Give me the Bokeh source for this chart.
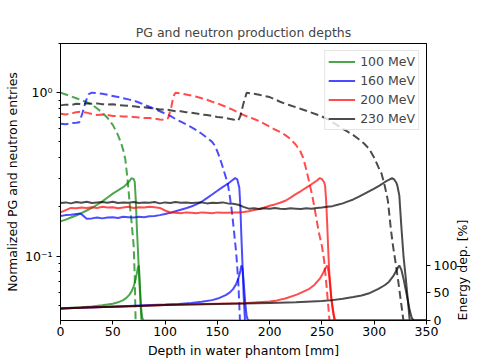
import numpy as np
from bokeh.plotting import figure
from bokeh.models import (Range1d, LinearAxis, FixedTicker, CustomJSTickFormatter,
                          Legend, LegendItem, LinearScale)
from bokeh.embed import file_html
from bokeh.resources import INLINE

FONT = "DejaVu Sans"

labels = ["100 MeV", "160 MeV", "200 MeV", "230 MeV"]
colors = ["green", "blue", "red", "black"]

# ---- PG (solid) ----
g_pg_x = [0, 5, 10, 15, 20, 25, 30, 35, 40, 45, 50, 55, 60, 63, 66, 68, 70, 71, 72, 73, 74, 75, 76, 77, 78]
g_pg_y = [0.163, 0.167, 0.172, 0.177, 0.183, 0.190, 0.197, 0.206, 0.216, 0.228, 0.241, 0.252, 0.264, 0.274,
          0.288, 0.300, 0.296, 0.284, 0.22, 0.15, 0.11, 0.08, 0.06, 0.045, 0.035]

b_pg_x = [0, 5, 10, 15, 19, 22,
          25, 30, 35, 40, 45, 50, 55, 60, 65, 70,
          75, 80, 85, 90, 95, 100, 105, 110, 115, 120,
          125, 130, 135, 140, 145, 150, 155, 160,
          164, 167, 169, 171, 172, 173, 174, 175, 176, 177]
b_pg_y = [0.176, 0.178, 0.179, 0.181, 0.182, 0.176,
          0.169, 0.170, 0.172, 0.170, 0.172, 0.173, 0.171, 0.174, 0.173, 0.172,
          0.174, 0.173, 0.175, 0.176, 0.178, 0.181, 0.184, 0.188, 0.192, 0.196,
          0.201, 0.207, 0.215, 0.226, 0.238, 0.251, 0.264, 0.277,
          0.290, 0.300, 0.295, 0.262, 0.20, 0.13, 0.09, 0.06, 0.045, 0.035]

r_pg_x = [0, 5, 10, 15, 20, 25, 30, 35, 40, 45,
          50, 55, 60, 65, 70, 75, 80, 85, 90, 95,
          100, 105, 110, 115, 120, 125, 130, 135, 140, 145,
          150, 155, 160, 165, 170, 175, 180, 185, 190, 195,
          200, 205, 210, 215, 220, 225, 230, 235, 240, 245,
          248, 250, 252, 253, 254, 255, 256, 257, 259, 261, 263]
r_pg_y = [0.185, 0.191, 0.197, 0.196, 0.198, 0.197, 0.199, 0.197, 0.200, 0.198,
          0.199, 0.196, 0.198, 0.200, 0.197, 0.199, 0.198, 0.200, 0.199, 0.197,
          0.190, 0.185, 0.184, 0.183, 0.185, 0.184, 0.183, 0.185, 0.184, 0.183,
          0.185, 0.184, 0.184, 0.185, 0.185, 0.186, 0.188, 0.191, 0.194, 0.198,
          0.203, 0.207, 0.212, 0.218, 0.228, 0.239, 0.250, 0.262, 0.275, 0.289,
          0.300, 0.296, 0.284, 0.27, 0.22, 0.16, 0.11, 0.08, 0.055, 0.045, 0.035]

k_pg_x = [0, 5, 10, 15, 20, 25, 30, 35, 40, 45,
          50, 55, 60, 65, 70, 75, 80, 85, 90, 95,
          100, 105, 110, 115, 120, 125, 130, 135, 140, 145,
          150, 155, 160, 165, 170, 175, 180, 185, 190, 195,
          200, 205, 210, 215, 220, 225, 230, 235, 240, 245,
          250, 255, 260, 265, 270, 275, 280, 285, 290, 295,
          300, 305, 310,
          314, 317, 319, 321, 322, 324, 326, 328, 330, 332, 334, 335]
k_pg_y = [0.211, 0.213, 0.210, 0.214, 0.212, 0.215, 0.211, 0.213, 0.214, 0.212,
          0.215, 0.211, 0.213, 0.212, 0.214, 0.211, 0.213, 0.212, 0.214, 0.210,
          0.213, 0.211, 0.214, 0.212, 0.213, 0.211, 0.212, 0.213, 0.210, 0.212,
          0.211, 0.213, 0.210, 0.209, 0.206, 0.200, 0.195, 0.196, 0.194, 0.196,
          0.195, 0.197, 0.195, 0.194, 0.196, 0.195, 0.194, 0.196, 0.195, 0.197,
          0.198, 0.200, 0.202, 0.206, 0.210, 0.216, 0.222, 0.230, 0.239, 0.249,
          0.259, 0.270, 0.283,
          0.293, 0.300, 0.295, 0.282, 0.272, 0.235, 0.15, 0.10, 0.075, 0.055, 0.04, 0.035]

# ---- neutrons (dashed) ----
g_n_x = [0, 5, 10, 15, 20, 25, 30, 35, 40, 45, 50, 55, 58, 60, 62, 64, 66, 68, 70, 71, 72]
g_n_y = [1.0, 0.975, 0.95, 0.925, 0.90, 0.875, 0.845, 0.80, 0.755, 0.70, 0.635, 0.55, 0.49, 0.445,
         0.39, 0.30, 0.215, 0.16, 0.115, 0.075, 0.035]

b_n_x = [0, 5, 10, 15, 18, 21, 24, 27,
         30, 35, 40, 45, 50, 55, 60, 65, 70, 75,
         80, 85, 90, 95, 100, 105, 110, 115, 120, 125,
         130, 135, 140, 145,
         148, 151, 154, 157, 160, 162, 164, 166, 168, 170, 171, 172]
b_n_y = [0.646, 0.640, 0.650, 0.655, 0.660, 0.75, 0.88, 0.98,
         1.0, 0.995, 0.985, 0.97, 0.955, 0.94, 0.925, 0.91, 0.895, 0.87,
         0.845, 0.82, 0.795, 0.77, 0.745, 0.72, 0.69, 0.665, 0.64, 0.615,
         0.59, 0.56, 0.53, 0.50,
         0.47, 0.42, 0.37, 0.32, 0.277, 0.23, 0.185, 0.14, 0.105, 0.07, 0.05, 0.035]

r_n_x = [0, 5, 10, 15, 20, 25, 30, 35, 40, 45, 50, 55, 60, 65, 70, 75, 80, 85, 90, 95, 100,
         103, 106, 108, 110,
         115, 120, 125, 130, 135, 140, 145, 150, 155, 160, 165, 170, 175, 180, 185, 190, 195,
         200, 205, 210, 215, 220, 225,
         229, 232, 235, 238, 241, 244, 247, 250, 252, 254, 256, 258]
r_n_y = [0.743, 0.735, 0.745, 0.760, 0.765, 0.755, 0.740, 0.730, 0.735, 0.730, 0.720, 0.720, 0.715,
         0.715, 0.710, 0.705, 0.700, 0.700, 0.695, 0.685, 0.680,
         0.70, 0.82, 0.95, 1.0,
         0.99, 0.975, 0.96, 0.945, 0.925, 0.905, 0.88, 0.86, 0.835, 0.81, 0.785, 0.755, 0.73, 0.71,
         0.69, 0.67, 0.645, 0.62, 0.595, 0.575, 0.55, 0.52, 0.48,
         0.443, 0.40, 0.34, 0.28, 0.23, 0.18, 0.14, 0.115, 0.095, 0.07, 0.05, 0.035]

k_n_x = [0, 5, 10, 15, 20, 25, 30, 35, 40, 45,
         50, 55, 60, 65, 70, 75, 80, 85, 90, 95,
         100, 105, 110, 115, 120, 125, 130, 135, 140, 145,
         150, 155, 160, 165, 170,
         172, 175, 178,
         185, 190, 195, 200, 205, 210, 215, 220, 225, 230,
         235, 240, 245, 250, 255, 260, 265, 270, 275, 280,
         285, 290, 295, 300,
         304, 307, 310, 313, 316, 318, 320, 323, 326, 328, 329]
k_n_y = [0.836, 0.845, 0.840, 0.855, 0.850, 0.860, 0.855, 0.860, 0.850, 0.845,
         0.850, 0.840, 0.835, 0.830, 0.825, 0.816, 0.815, 0.805, 0.800, 0.790,
         0.790, 0.780, 0.770, 0.770, 0.760, 0.755, 0.745, 0.735, 0.730, 0.720,
         0.710, 0.705, 0.695, 0.685, 0.675,
         0.72, 0.86, 1.0,
         0.985, 0.97, 0.955, 0.94, 0.91, 0.88, 0.855, 0.835, 0.815, 0.795,
         0.775, 0.755, 0.735, 0.715, 0.69, 0.66, 0.63, 0.60, 0.575, 0.55,
         0.52, 0.49, 0.454, 0.40,
         0.35, 0.32, 0.27, 0.22, 0.145, 0.115, 0.095, 0.07, 0.05, 0.04, 0.035]

# ---- energy deposition [%] (right axis) ----
g_e_x = [0, 10, 20, 30, 40, 50, 55, 60, 63, 66, 68, 70, 72, 73, 74, 75, 76, 77, 78, 79, 80, 350]
g_e_y = [22, 23, 24, 25.5, 27.5, 30.5, 33, 37, 41, 47, 53, 62, 76, 86, 96, 100, 60, 25, 6, 1, 0, 0]
b_e_x = [0, 20, 40, 60, 80, 100, 113, 125, 135, 145, 152, 158, 162, 165, 168, 170, 172, 173, 174,
         175, 176, 177, 178, 179, 180, 350]
b_e_y = [22, 23, 24.5, 26, 27.5, 29, 30, 32, 34, 37, 41, 46, 51, 57, 66, 76, 90, 100, 95,
         75, 48, 25, 8, 2, 0, 0]
r_e_x = [0, 25, 50, 75, 100, 125, 150, 175, 200, 207, 215, 226, 238, 243, 248, 251, 253, 255, 256,
         257, 258, 259, 260, 261, 262, 263, 350]
r_e_y = [22, 23.5, 25, 26.5, 28, 29.5, 30.5, 31.5, 34.5, 36.5, 40, 47, 57.5, 65, 76, 86, 94, 100, 92,
         80, 60, 40, 24, 12, 5, 0, 0]
k_e_x = [0, 25, 50, 75, 100, 125, 150, 175, 200, 225, 250, 260, 270, 280, 288, 296, 304, 310, 314,
         318, 321, 323, 324, 326, 328, 330, 332, 334, 336, 338, 350]
k_e_y = [22, 23.5, 25, 26.5, 28, 29, 30, 31, 32, 33, 35.5, 37, 39.5, 42.5, 45.5, 50, 57.5, 64, 70,
         80, 90, 97, 100, 92, 76, 57, 38, 18, 4, 0, 0]

pg = [(g_pg_x, g_pg_y), (b_pg_x, b_pg_y), (r_pg_x, r_pg_y), (k_pg_x, k_pg_y)]
neu = [(g_n_x, g_n_y), (b_n_x, b_n_y), (r_n_x, r_n_y), (k_n_x, k_n_y)]
edep = [(g_e_x, g_e_y), (b_e_x, b_e_y), (r_e_x, r_e_y), (k_e_x, k_e_y)]

xticks = [0, 50, 100, 150, 200, 250, 300, 350]
yticks = [0.1, 1.0]
yminor = [0.05, 0.06, 0.07, 0.08, 0.09, 0.2, 0.3, 0.4, 0.5, 0.6, 0.7, 0.8, 0.9, 2.0]
rticks = [0, 50, 100]
right_label = "Energy dep. [%]"

p = figure(width=480, height=360, y_axis_type="log",
           x_range=Range1d(0, 350), y_range=Range1d(0.0403, 2.0),
           output_backend="svg", toolbar_location=None,
           min_border_left=60, min_border_right=48, min_border_top=43, min_border_bottom=40)
p.extra_y_ranges = {"edep": Range1d(0, 503)}
p.extra_y_scales = {"edep": LinearScale()}

p.title.text = "PG and neutron production depths"
p.title.align = "center"
p.title.text_font = FONT
p.title.text_font_size = "12.5px"
p.title.text_font_style = "normal"
p.title.standoff = 7

p.grid.visible = False
p.outline_line_color = "black"
p.outline_line_alpha = 1.0
p.background_fill_color = "white"

xa = p.xaxis[0]
xa.ticker = FixedTicker(ticks=xticks)
xa.axis_label = "Depth in water phantom [mm]"
ya = p.yaxis[0]
ya.ticker = FixedTicker(ticks=yticks, minor_ticks=yminor)
ya.formatter = CustomJSTickFormatter(code="return (tick >= 0.5) ? '10\u2070' : '10\u207b\u00b9';")
ya.axis_label = "Normalized PG and neutron entries"

ra = LinearAxis(y_range_name="edep", ticker=FixedTicker(ticks=rticks))
p.add_layout(ra, "right")

# label of the energy axis, drawn as a rotated tick label anchored at 0 %
rl = LinearAxis(y_range_name="edep", ticker=FixedTicker(ticks=[0]),
                formatter=CustomJSTickFormatter(code="return '%s';" % right_label),
                major_label_orientation=np.pi / 2)
rl.axis_line_color = None
rl.major_tick_line_color = None
rl.minor_tick_line_color = None
rl.major_tick_in = 0
rl.major_tick_out = 0
rl.major_label_standoff = 2
rl.major_label_text_font = FONT
rl.major_label_text_font_size = "12.5px"
rl.major_label_text_color = "black"
p.add_layout(rl, "right")

for ax in (xa, ya, ra):
    ax.axis_line_color = "black"
    ax.major_tick_line_color = "black"
    ax.major_tick_in = 0
    ax.major_tick_out = 4
    ax.minor_tick_in = 0
    ax.minor_tick_out = 2
    ax.major_label_text_font = FONT
    ax.major_label_text_font_size = "12.5px"
    ax.major_label_text_color = "black"
    ax.axis_label_text_font = FONT
    ax.axis_label_text_font_size = "12.5px"
    ax.axis_label_text_font_style = "normal"
    ax.axis_label_text_color = "black"
xa.major_label_standoff = 2
xa.axis_label_standoff = 4
ya.major_label_standoff = 4
ya.axis_label_standoff = 2
ra.major_label_standoff = 3
xa.minor_tick_line_color = None
ra.minor_tick_line_color = None
ya.minor_tick_line_color = "black"

renderers = []
for (px, py), (nx, ny), c in zip(pg, neu, colors):
    r = p.line(px, py, line_color=c, line_alpha=0.7, line_width=2)
    p.line(nx, ny, line_color=c, line_alpha=0.7, line_width=2, line_dash="8 4")
    renderers.append(r)

for (ex, ey), c in zip(edep, colors):
    p.line(ex, ey, line_color=c, line_alpha=0.7, line_width=2, y_range_name="edep")

legend = Legend(items=[LegendItem(label=l, renderers=[r]) for l, r in zip(labels, renderers)],
                location="top_right", margin=7, padding=3, spacing=4,
                glyph_width=27, glyph_height=15, label_height=15, label_standoff=5,
                label_text_font=FONT, label_text_font_size="12.5px",
                border_line_color="#cccccc", border_line_width=1,
                background_fill_color="white", background_fill_alpha=0.8)
p.add_layout(legend)

with open("out.html", "w", encoding="utf-8") as f:
    f.write(file_html(p, INLINE))
